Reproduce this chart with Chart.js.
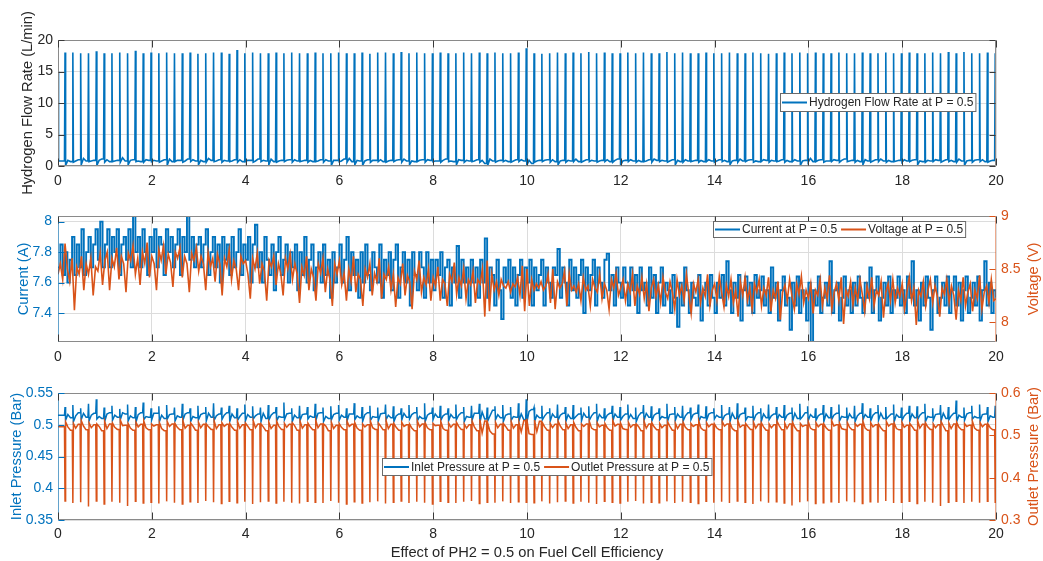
<!DOCTYPE html>
<html>
<head>
<meta charset="utf-8">
<script src="https://cdn.jsdelivr.net/npm/chart.js@4.4.1/dist/chart.umd.min.js"></script>
<style>
html, body { margin: 0; padding: 0; background: #fff; }
#wrap { position: relative; width: 1043px; height: 561px; overflow: hidden; }
canvas { position: absolute; left: 0; }
</style>
</head>
<body>
<div id="wrap">
  <canvas id="flow" width="1043" height="200" style="top:0px"></canvas>
  <canvas id="elec" width="1043" height="170" style="top:200px"></canvas>
  <canvas id="press" width="1043" height="191" style="top:370px"></canvas>
</div>
<script>
// ---- data ----
var timeTicks = [0, 2, 4, 6, 8, 10, 12, 14, 16, 18, 20];
var flowTicks = [0, 5, 10, 15, 20];
var currentTicks = [7.4, 7.6, 7.8, 8];
var voltageTicks = [8, 8.5, 9];
var inletTicks = [0.35, 0.4, 0.45, 0.5, 0.55];
var outletTicks = [0.3, 0.4, 0.5, 0.6];

// purge events (one every ~1/6 s, first at ~0.15 s)
var purgeStart = 0.15;
var purgeInterval = 1 / 6;

// hydrogen flow rate (L/min)
var flowLead = [[0, 15], [0.012, 0.8]];
var flowPeaks = [
  18.0,18.0,17.9,17.9,18.2,17.9,17.9,18.0,17.9,18.3,17.9,18.0,
  17.9,18.0,17.9,17.9,18.0,17.8,17.9,18.0,18.0,17.8,18.4,17.9,
  18.0,17.9,17.9,18.0,17.9,18.0,17.9,17.9,18.0,17.9,17.9,18.0,
  17.9,17.9,18.0,17.8,18.0,18.0,17.9,18.1,17.9,18.0,17.9,17.9,
  18.0,17.9,17.9,18.0,17.9,18.0,17.9,18.0,17.9,17.9,18.0,18.7,
  17.9,17.8,17.9,18.0,17.9,18.0,17.9,18.1,17.9,18.0,17.9,17.9,
  18.0,17.9,18.0,17.9,17.9,18.1,17.9,18.0,17.9,17.9,18.0,17.9,
  17.9,18.0,17.9,17.9,18.0,17.9,17.8,17.9,18.0,17.9,18.0,17.9,
  18.0,17.9,17.9,18.0,17.9,17.9,18.0,17.9,17.9,18.0,17.9,17.9,
  18.0,17.9,17.9,18.0,17.9,18.1,17.9,18.1,17.9,17.9,18.0,17.9
];
var flowLow = [
  0.1,0.6,0.2,0.7,0.1,0.6,0.7,0.6,0.2,0.7,0.6,0.7,0.6,0.1,0.7,0.6,0.7,0.2,0.6,0.7,
  0.6,0.7,0.6,0.7,0.6,0.7,0.2,0.6,0.7,0.6,0.7,0.6,0.7,0.6,0.1,0.7,0.6,0.2,0.1,0.6,
  0.7,0.6,0.7,0.6,0.2,0.7,0.6,0.7,0.6,0.7,0.2,0.6,0.7,0.6,0.1,0.6,0.7,0.6,0.7,0.1,
  0.6,0.7,0.6,0.2,0.6,0.7,0.6,0.7,0.6,0.7,0.6,0.1,0.7,0.6,0.7,0.6,0.7,0.6,0.2,0.6,
  0.7,0.6,0.7,0.6,0.7,0.2,0.6,0.7,0.6,0.7,0.6,0.7,0.6,0.7,0.1,0.6,0.7,0.6,0.7,0.6,
  0.7,0.6,0.2,0.6,0.7,0.6,0.7,0.6,0.7,0.2,0.6,0.7,0.6,0.7,0.6,0.1,0.6,0.7,0.6,0.7
];
var flowBase = [
  0.9,0.8,1.2,0.8,0.9,1.0,0.8,1.3,0.9,0.8,1.0,0.9,0.8,1.1,0.9,0.8,1.0,0.9,1.2,0.8,
  0.9,0.8,1.0,0.9,0.8,0.9,1.1,0.8,0.9,1.0,0.8,0.9,0.8,1.0,0.9,0.8,1.2,0.9,0.8,0.9,
  1.0,0.8,0.9,1.1,0.8,0.9,1.0,0.8,0.9,0.8,1.0,0.9,0.8,0.9,1.1,0.8,0.9,0.8,1.0,0.9,
  0.8,0.9,1.0,0.8,0.9,1.1,0.8,0.9,0.8,1.0,0.9,0.8,1.0,0.9,0.8,1.1,0.9,0.8,0.9,1.0,
  0.8,0.9,1.0,0.8,0.9,0.8,1.1,0.9,0.8,1.0,0.9,0.8,0.9,1.0,0.8,1.2,0.9,0.8,1.0,0.9,
  0.8,0.9,1.0,0.8,1.1,0.9,0.8,1.0,0.9,0.8,0.9,1.0,0.8,0.9,1.1,0.8,0.9,1.0,0.8,0.9
];
var flowBase2 = [
  0.7,1.0,0.8,0.9,1.1,0.7,0.9,0.8,1.0,0.7,0.9,0.8,1.0,0.7,0.9,1.1,0.8,0.7,0.9,1.0,
  0.8,1.0,0.7,0.9,1.1,0.8,0.7,0.9,1.0,0.8,0.9,0.7,1.0,0.8,0.9,1.1,0.7,0.8,1.0,0.9,
  0.7,0.9,1.0,0.8,0.7,1.0,0.9,0.8,1.1,0.7,0.9,0.8,1.0,0.4,0.8,0.9,0.7,1.0,0.8,0.4,
  0.9,1.0,0.7,0.9,0.8,0.7,1.0,0.8,0.9,0.7,1.1,0.9,0.8,0.7,1.0,0.9,0.8,1.0,0.7,0.8,
  0.9,0.7,0.8,1.0,0.7,0.9,0.8,1.0,0.7,0.9,0.8,1.0,0.7,0.8,0.9,0.7,1.0,0.8,0.9,1.1,
  0.9,0.7,0.8,1.0,0.8,0.7,0.9,0.8,1.0,0.7,0.8,0.9,1.0,0.7,0.8,0.9,1.0,0.7,0.9,0.8
];

// current (A) and voltage (V), one sample every 0.05 s
var sampleStep = 0.05;
var currentA = [
  7.70,7.85,7.65,7.80,7.60,7.75,7.90,7.65,7.85,7.70,7.95,7.65,7.80,7.90,7.70,7.85,7.95,7.75,8.00,7.70,
  7.85,7.95,7.70,7.90,7.80,7.95,7.65,7.85,7.90,7.75,7.95,7.70,8.04,7.80,7.90,7.70,7.95,7.80,7.65,7.90,
  7.80,7.95,7.70,7.90,7.85,7.65,7.95,7.80,7.90,7.70,7.85,7.95,7.65,7.90,7.80,8.04,7.75,7.90,7.70,7.85,
  7.90,7.70,7.85,7.95,7.65,7.80,7.90,7.70,7.85,7.60,7.90,7.75,7.85,7.65,7.90,7.70,7.80,7.95,7.65,7.85,
  7.75,7.90,7.60,7.85,7.98,7.70,7.80,7.60,7.90,7.75,7.65,7.85,7.55,7.80,7.90,7.65,7.75,7.85,7.60,7.80,
  7.70,7.85,7.55,7.80,7.65,7.90,7.60,7.75,7.85,7.55,7.70,7.80,7.60,7.85,7.65,7.75,7.50,7.80,7.60,7.70,
  7.85,7.60,7.75,7.90,7.55,7.80,7.65,7.75,7.50,7.80,7.60,7.85,7.65,7.55,7.80,7.70,7.60,7.85,7.50,7.75,
  7.65,7.80,7.55,7.75,7.85,7.50,7.70,7.80,7.60,7.75,7.45,7.80,7.65,7.55,7.80,7.70,7.50,7.80,7.60,7.75,
  7.55,7.75,7.65,7.80,7.50,7.70,7.75,7.45,7.70,7.60,7.84,7.50,7.75,7.60,7.70,7.45,7.75,7.60,7.70,7.50,
  7.75,7.60,7.89,7.50,7.70,7.65,7.45,7.75,7.55,7.36,7.70,7.60,7.75,7.50,7.70,7.45,7.65,7.75,7.50,7.70,
  7.60,7.75,7.45,7.70,7.55,7.65,7.75,7.45,7.70,7.60,7.50,7.70,7.65,7.82,7.50,7.70,7.60,7.45,7.75,7.55,
  7.70,7.50,7.65,7.75,7.40,7.70,7.55,7.65,7.75,7.45,7.70,7.60,7.50,7.75,7.79,7.55,7.65,7.45,7.70,7.60,
  7.50,7.70,7.60,7.45,7.70,7.55,7.65,7.40,7.70,7.55,7.60,7.45,7.70,7.50,7.65,7.40,7.60,7.70,7.45,7.60,
  7.55,7.40,7.65,7.50,7.31,7.60,7.45,7.70,7.55,7.40,7.60,7.50,7.45,7.65,7.35,7.55,7.60,7.45,7.65,7.50,
  7.40,7.60,7.50,7.65,7.45,7.74,7.55,7.40,7.60,7.50,7.65,7.35,7.55,7.64,7.45,7.60,7.40,7.65,7.50,7.55,
  7.64,7.45,7.55,7.40,7.70,7.50,7.60,7.35,7.55,7.64,7.45,7.50,7.29,7.60,7.45,7.64,7.40,7.55,7.50,7.35,
  7.60,7.21,7.55,7.45,7.64,7.40,7.50,7.60,7.45,7.74,7.40,7.55,7.60,7.35,7.50,7.64,7.45,7.55,7.40,7.60,
  7.45,7.64,7.50,7.40,7.60,7.50,7.70,7.40,7.55,7.64,7.35,7.50,7.60,7.45,7.64,7.40,7.55,7.50,7.64,7.45,
  7.55,7.40,7.64,7.50,7.74,7.45,7.55,7.35,7.60,7.45,7.64,7.50,7.29,7.55,7.64,7.40,7.50,7.60,7.45,7.64,
  7.40,7.55,7.64,7.45,7.60,7.35,7.55,7.64,7.40,7.50,7.60,7.45,7.64,7.35,7.55,7.74,7.45,7.60,7.40,7.55,
  7.50
];
var voltageV = [
  8.45,8.55,8.40,8.74,8.50,8.38,8.60,8.11,8.52,8.45,8.62,8.30,8.55,8.45,8.60,8.25,8.52,8.48,8.65,8.35,
  8.58,8.66,8.30,8.60,8.52,8.70,8.40,8.62,8.55,8.28,8.65,8.58,8.72,8.45,8.60,8.35,8.66,8.55,8.75,8.42,
  8.62,8.55,8.30,8.68,8.58,8.72,8.45,8.64,8.56,8.33,8.66,8.60,8.70,8.42,8.62,8.55,8.28,8.65,8.58,8.70,
  8.48,8.62,8.55,8.30,8.66,8.52,8.60,8.38,8.64,8.55,8.25,8.60,8.52,8.68,8.40,8.58,8.50,8.30,8.62,8.55,
  8.58,8.45,8.22,8.60,8.50,8.65,8.36,8.55,8.48,8.20,8.58,8.52,8.62,8.35,8.55,8.46,8.25,8.60,8.50,8.64,
  8.40,8.55,8.45,8.18,8.52,8.44,8.62,8.30,8.50,8.42,8.20,8.55,8.46,8.60,8.28,8.50,8.40,8.15,8.55,8.45,
  8.58,8.35,8.46,8.20,8.50,8.38,8.62,8.28,8.45,8.40,8.15,8.50,8.42,8.55,8.25,8.46,8.38,8.60,8.22,8.45,
  8.40,8.52,8.30,8.45,8.14,8.42,8.36,8.55,8.25,8.44,8.38,8.12,8.48,8.40,8.58,8.28,8.42,8.35,8.50,8.20,
  8.42,8.34,8.52,8.20,8.40,8.36,8.15,8.45,8.38,8.56,8.26,8.42,8.34,8.50,8.22,8.40,8.35,8.48,8.18,8.40,
  8.36,8.50,8.05,8.58,8.10,8.45,8.30,8.38,8.25,8.40,8.34,8.32,8.38,8.28,8.36,8.33,8.42,8.25,8.53,8.10,
  8.50,8.15,8.40,8.30,8.36,8.32,8.38,8.30,8.34,8.45,8.18,8.50,8.12,8.38,8.32,8.36,8.48,8.15,8.46,8.30,
  8.34,8.28,8.36,8.20,8.42,8.30,8.34,8.15,8.40,8.32,8.28,8.45,8.22,8.36,8.30,8.12,8.40,8.32,8.46,8.25,
  8.32,8.40,8.20,8.36,8.28,8.45,8.15,8.34,8.26,8.42,8.22,8.36,8.10,8.32,8.40,8.24,8.35,8.18,8.42,8.28,
  8.22,8.38,8.28,8.12,8.40,8.25,8.34,8.20,8.45,8.26,8.08,8.36,8.28,8.40,8.18,8.32,8.24,8.45,8.15,8.30,
  8.36,8.20,8.43,8.28,8.14,8.35,8.24,8.40,8.18,8.30,8.05,8.38,8.25,8.42,8.20,8.32,8.12,8.36,8.28,8.40,
  8.15,8.32,8.25,8.42,8.10,8.30,8.22,8.38,8.02,8.28,8.35,8.20,8.40,8.24,8.12,8.36,8.26,8.43,8.18,8.30,
  8.22,8.36,8.08,8.30,8.25,8.40,8.15,8.32,8.22,8.44,8.12,8.28,8.36,8.20,8.42,7.98,8.30,8.24,8.38,8.16,
  8.32,8.20,8.40,8.26,8.10,8.34,8.22,8.42,8.15,8.30,8.25,8.38,8.04,8.28,8.36,8.20,8.40,8.18,8.32,8.24,
  8.36,8.12,8.28,8.42,8.20,8.32,7.97,8.30,8.24,8.38,8.15,8.30,8.40,8.18,8.34,8.24,8.05,8.32,8.26,8.40,
  8.18,8.34,8.25,8.02,8.30,8.20,8.42,8.15,8.28,8.36,8.10,8.30,8.22,8.44,8.12,8.28,8.34,8.18,8.40,8.20,
  8.22
];

// inlet pressure (Bar), per purge: spike, dip after it, two levels between purges
var inletLead = [[0, 0.515]];
var inletPeak = [
  0.528,0.531,0.526,0.533,0.540,0.527,0.530,0.525,0.532,0.528,0.535,0.526,0.529,0.531,0.527,0.533,0.526,0.530,0.528,0.534,
  0.527,0.530,0.526,0.532,0.529,0.527,0.531,0.528,0.535,0.526,0.530,0.528,0.533,0.527,0.529,0.531,0.526,0.534,0.528,0.530,
  0.527,0.532,0.529,0.526,0.531,0.528,0.534,0.527,0.530,0.526,0.532,0.528,0.530,0.533,0.527,0.529,0.531,0.528,0.534,0.540,
  0.527,0.530,0.526,0.532,0.528,0.531,0.527,0.529,0.533,0.526,0.530,0.528,0.532,0.527,0.531,0.529,0.526,0.533,0.528,0.530,
  0.527,0.532,0.529,0.526,0.531,0.528,0.534,0.527,0.530,0.526,0.532,0.528,0.531,0.527,0.533,0.529,0.526,0.531,0.528,0.532,
  0.527,0.530,0.534,0.526,0.531,0.528,0.532,0.527,0.530,0.529,0.533,0.526,0.531,0.528,0.538,0.527,0.530,0.532,0.528,0.530
];
var inletDip = [
  0.507,0.505,0.508,0.506,0.509,0.505,0.507,0.508,0.506,0.504,0.508,0.507,0.505,0.509,0.506,0.507,0.505,0.508,0.506,0.507,
  0.508,0.505,0.507,0.506,0.509,0.505,0.507,0.506,0.508,0.505,0.507,0.509,0.506,0.505,0.508,0.507,0.506,0.508,0.505,0.507,
  0.506,0.508,0.505,0.507,0.509,0.506,0.505,0.508,0.507,0.506,0.508,0.505,0.507,0.503,0.506,0.508,0.505,0.507,0.506,0.503,
  0.505,0.508,0.506,0.507,0.505,0.509,0.506,0.507,0.505,0.508,0.506,0.507,0.509,0.505,0.507,0.506,0.508,0.505,0.507,0.506,
  0.508,0.505,0.507,0.509,0.506,0.505,0.508,0.507,0.506,0.505,0.508,0.506,0.507,0.505,0.509,0.506,0.507,0.505,0.508,0.506,
  0.507,0.505,0.508,0.506,0.507,0.509,0.505,0.507,0.506,0.508,0.505,0.507,0.506,0.508,0.505,0.507,0.509,0.506,0.505,0.508
];
var inletMid = [
  0.516,0.514,0.518,0.515,0.513,0.517,0.515,0.519,0.514,0.516,0.513,0.518,0.515,0.516,0.514,0.517,0.513,0.516,0.518,0.514,
  0.515,0.517,0.513,0.516,0.514,0.518,0.515,0.513,0.517,0.515,0.516,0.514,0.518,0.513,0.516,0.515,0.517,0.514,0.516,0.513,
  0.517,0.515,0.514,0.518,0.516,0.513,0.515,0.517,0.514,0.516,0.515,0.513,0.518,0.520,0.514,0.516,0.515,0.513,0.517,0.521,
  0.515,0.514,0.517,0.515,0.516,0.513,0.518,0.514,0.516,0.515,0.517,0.513,0.516,0.514,0.518,0.515,0.513,0.516,0.517,0.514,
  0.516,0.513,0.517,0.515,0.514,0.518,0.516,0.513,0.515,0.517,0.514,0.516,0.515,0.518,0.513,0.516,0.514,0.517,0.515,0.513,
  0.517,0.514,0.516,0.515,0.518,0.513,0.516,0.514,0.517,0.515,0.513,0.516,0.518,0.514,0.515,0.517,0.513,0.516,0.514,0.517
];
var inletMid2 = [
  0.511,0.519,0.512,0.518,0.510,0.519,0.512,0.517,0.511,0.519,0.512,0.518,0.510,0.517,0.512,0.519,0.511,0.518,0.512,0.517,
  0.519,0.511,0.518,0.512,0.517,0.510,0.519,0.512,0.518,0.511,0.517,0.512,0.519,0.510,0.518,0.512,0.517,0.511,0.519,0.512,
  0.518,0.511,0.517,0.512,0.519,0.510,0.518,0.512,0.517,0.511,0.519,0.512,0.518,0.509,0.523,0.511,0.517,0.512,0.508,0.524,
  0.511,0.519,0.512,0.518,0.510,0.517,0.512,0.519,0.511,0.518,0.512,0.517,0.510,0.519,0.512,0.518,0.511,0.517,0.512,0.519,
  0.518,0.511,0.519,0.512,0.517,0.510,0.518,0.512,0.519,0.511,0.517,0.512,0.518,0.510,0.519,0.512,0.517,0.511,0.518,0.512,
  0.511,0.518,0.512,0.519,0.510,0.517,0.512,0.518,0.511,0.519,0.512,0.517,0.510,0.518,0.512,0.519,0.511,0.517,0.512,0.518
];

// outlet pressure (Bar), per purge: dip, overshoot after it, two levels between purges
var outletLead = [[0, 0.52]];
var outletDip = [
  0.345,0.340,0.342,0.332,0.345,0.338,0.343,0.341,0.333,0.344,0.340,0.342,0.339,0.344,0.341,0.338,0.343,0.340,0.345,0.342,
  0.339,0.344,0.341,0.343,0.338,0.342,0.345,0.340,0.343,0.341,0.339,0.344,0.342,0.340,0.345,0.341,0.338,0.343,0.340,0.342,
  0.344,0.339,0.342,0.345,0.340,0.343,0.341,0.338,0.344,0.342,0.340,0.343,0.345,0.339,0.342,0.341,0.344,0.340,0.343,0.342,
  0.341,0.344,0.339,0.342,0.345,0.340,0.343,0.341,0.338,0.344,0.342,0.340,0.343,0.345,0.339,0.342,0.341,0.344,0.340,0.343,
  0.342,0.339,0.344,0.341,0.343,0.340,0.345,0.342,0.338,0.344,0.341,0.343,0.340,0.334,0.342,0.344,0.339,0.341,0.343,0.340,
  0.344,0.342,0.339,0.343,0.341,0.345,0.340,0.342,0.344,0.339,0.343,0.341,0.333,0.342,0.344,0.340,0.343,0.341,0.344,0.342
];
var outletUp = [
  0.532,0.528,0.535,0.530,0.527,0.533,0.529,0.536,0.528,0.531,0.534,0.527,0.530,0.533,0.528,0.535,0.529,0.531,0.527,0.534,
  0.530,0.528,0.533,0.529,0.535,0.527,0.531,0.534,0.528,0.530,0.533,0.529,0.536,0.527,0.531,0.528,0.534,0.530,0.527,0.533,
  0.529,0.535,0.528,0.531,0.527,0.534,0.530,0.528,0.533,0.529,0.531,0.527,0.534,0.538,0.529,0.531,0.528,0.533,0.530,0.539,
  0.536,0.530,0.528,0.534,0.529,0.531,0.527,0.533,0.530,0.528,0.535,0.529,0.531,0.527,0.534,0.530,0.528,0.533,0.529,0.531,
  0.528,0.534,0.530,0.527,0.533,0.529,0.535,0.528,0.531,0.530,0.527,0.534,0.529,0.531,0.528,0.533,0.530,0.527,0.535,0.529,
  0.531,0.528,0.534,0.530,0.527,0.533,0.529,0.531,0.528,0.535,0.530,0.527,0.533,0.529,0.531,0.528,0.534,0.530,0.527,0.532
];
var outletMid = [
  0.520,0.517,0.522,0.518,0.521,0.516,0.519,0.523,0.517,0.520,0.518,0.522,0.516,0.521,0.519,0.517,0.522,0.518,0.520,0.516,
  0.521,0.519,0.517,0.522,0.518,0.520,0.516,0.521,0.519,0.523,0.517,0.520,0.518,0.522,0.516,0.519,0.521,0.517,0.520,0.518,
  0.522,0.516,0.519,0.521,0.517,0.520,0.518,0.523,0.516,0.519,0.521,0.517,0.520,0.505,0.510,0.518,0.521,0.517,0.508,0.504,
  0.509,0.520,0.518,0.522,0.516,0.519,0.521,0.517,0.520,0.518,0.522,0.516,0.519,0.521,0.517,0.520,0.518,0.522,0.516,0.519,
  0.521,0.517,0.520,0.518,0.522,0.516,0.519,0.521,0.517,0.520,0.518,0.523,0.516,0.519,0.521,0.517,0.520,0.518,0.522,0.516,
  0.519,0.521,0.517,0.520,0.518,0.522,0.516,0.519,0.521,0.517,0.520,0.518,0.522,0.516,0.519,0.521,0.517,0.520,0.518,0.521
];
var outletMid2 = [
  0.512,0.526,0.513,0.525,0.511,0.527,0.514,0.524,0.512,0.526,0.513,0.525,0.511,0.527,0.513,0.524,0.512,0.526,0.514,0.525,
  0.526,0.512,0.525,0.513,0.527,0.511,0.524,0.514,0.526,0.512,0.525,0.513,0.527,0.511,0.524,0.513,0.526,0.512,0.525,0.514,
  0.513,0.526,0.512,0.525,0.511,0.527,0.513,0.524,0.512,0.526,0.514,0.525,0.511,0.534,0.503,0.526,0.512,0.525,0.535,0.502,
  0.533,0.512,0.526,0.513,0.525,0.511,0.527,0.513,0.524,0.512,0.526,0.514,0.525,0.511,0.527,0.513,0.524,0.512,0.526,0.513,
  0.525,0.512,0.526,0.513,0.527,0.511,0.524,0.514,0.526,0.512,0.525,0.513,0.527,0.511,0.524,0.513,0.526,0.512,0.525,0.514,
  0.513,0.526,0.512,0.525,0.511,0.527,0.513,0.524,0.512,0.526,0.514,0.525,0.511,0.527,0.513,0.524,0.512,0.526,0.513,0.525
];

// ---- styling ----
var BLUE = '#0072BD';
var ORANGE = '#D95319';
var INK = '#262626';
var GRID = '#dcdcdc';
var FONT = '"Liberation Sans", Arial, Helvetica, sans-serif';

// point list per purge cycle: level before, spike, value after, two levels in between
function spikeTrain(lead, peaks, after, midA, midB) {
  var pts = lead.map(function (p) { return { x: p[0], y: p[1] }; });
  peaks.forEach(function (p, k) {
    var t = purgeStart + k * purgeInterval;
    pts.push({ x: t - 0.012, y: k ? midB[k - 1] : lead[lead.length - 1][1] });
    pts.push({ x: t, y: p });
    pts.push({ x: t + 0.012, y: after[k] });
    pts.push({ x: t + 0.06, y: midA[k] });
    pts.push({ x: t + 0.115, y: midB[k] });
  });
  return pts;
}

function sampled(values) {
  return values.map(function (v, i) { return { x: i * sampleStep, y: v }; });
}

function xScale(h, pad) {
  return {
    type: 'linear', min: 0, max: 20,
    afterBuildTicks: function (s) { s.ticks = timeTicks.map(function (v) { return { value: v }; }); },
    afterFit: function (s) { s.height = h; },
    grid: { color: GRID, drawTicks: false },
    border: { display: false },
    ticks: { color: INK, font: { family: FONT, size: 14 }, padding: pad, maxRotation: 0, autoSkip: false }
  };
}

function yScale(pos, min, max, vals, color, w, pad, grid) {
  return {
    type: 'linear', position: pos, min: min, max: max,
    afterBuildTicks: function (s) { s.ticks = vals.map(function (v) { return { value: v }; }); },
    afterFit: function (s) { s.width = w; },
    grid: { display: grid, color: GRID, drawTicks: false },
    border: { display: false },
    ticks: { color: color, font: { family: FONT, size: 14 }, padding: pad, callback: function (v) { return String(v); } }
  };
}

// MATLAB style box, inner ticks and axis labels
var framePlugin = {
  id: 'frame',
  afterDatasetsDraw: function (chart, args, o) {
    var ctx = chart.ctx, a = chart.chartArea, sc = chart.scales;
    var L = Math.round(a.left) + 0.5, R = Math.round(a.right) - 0.5;
    var T = Math.round(a.top) + 0.5, B = Math.round(a.bottom) - 0.5;
    function seg(x1, y1, x2, y2, c) {
      ctx.strokeStyle = c; ctx.beginPath(); ctx.moveTo(x1, y1); ctx.lineTo(x2, y2); ctx.stroke();
    }
    ctx.save();
    ctx.lineWidth = 1;
    seg(L, T, R, T, o.frame);
    seg(L, B, R, B, o.frame);
    seg(L, T, L, B, o.left);
    seg(R, T, R, B, o.right);
    timeTicks.forEach(function (v) {
      var px = Math.round(sc.x.getPixelForValue(v)) + 0.5;
      seg(px, B, px, B - 7, o.tick);
      seg(px, T, px, T + 7, o.tick);
    });
    sc.yL.ticks.forEach(function (t) {
      var py = Math.round(sc.yL.getPixelForValue(t.value)) + 0.5;
      seg(L, py, L + 6, py, o.leftTick);
      if (!sc.yR) seg(R, py, R - 6, py, o.tick);
    });
    if (sc.yR) {
      sc.yR.ticks.forEach(function (t) {
        var py = Math.round(sc.yR.getPixelForValue(t.value)) + 0.5;
        seg(R, py, R - 6, py, o.rightTick);
      });
    }
    ctx.font = '14.7px ' + FONT;
    ctx.textAlign = 'center';
    ctx.textBaseline = 'middle';
    var midY = (a.top + a.bottom) / 2;
    o.titles.forEach(function (tt) {
      ctx.save();
      ctx.translate(tt.x, tt.y === undefined ? midY : tt.y);
      if (tt.rot) ctx.rotate(-Math.PI / 2);
      ctx.fillStyle = tt.color;
      ctx.fillText(tt.text, 0, 0);
      ctx.restore();
    });
    ctx.restore();
  }
};

// legend box drawn inside the axes
var legendPlugin = {
  id: 'mlegend',
  afterDraw: function (chart, args, o) {
    var ctx = chart.ctx;
    ctx.save();
    ctx.font = '12px ' + FONT;
    var widths = o.items.map(function (it) { return ctx.measureText(it.label).width; });
    var w = widths.reduce(function (s, tw) { return s + 27 + tw + 4; }, 2) - 1;
    ctx.fillStyle = '#fff';
    ctx.fillRect(o.x, o.y, w, o.h);
    ctx.strokeStyle = '#6a6a6a';
    ctx.lineWidth = 1;
    ctx.strokeRect(o.x + 0.5, o.y + 0.5, w - 1, o.h - 1);
    var cx = o.x + 2, my = o.y + o.h / 2;
    o.items.forEach(function (it, i) {
      ctx.strokeStyle = it.color;
      ctx.lineWidth = 2;
      ctx.beginPath(); ctx.moveTo(cx, my); ctx.lineTo(cx + 25, my); ctx.stroke();
      ctx.fillStyle = INK;
      ctx.textAlign = 'left';
      ctx.textBaseline = 'middle';
      ctx.fillText(it.label, cx + 27, my + 0.5);
      cx += 27 + widths[i] + 4;
    });
    ctx.restore();
  }
};

var common = {
  responsive: false,
  animation: false,
  events: [],
  elements: { point: { radius: 0 }, line: { tension: 0 } }
};

function lineSet(label, data, color, axis, order, width, extra) {
  var d = { label: label, data: data, borderColor: color, backgroundColor: color, borderWidth: width,
            pointRadius: 0, fill: false, yAxisID: axis, order: order };
  return Object.assign(d, extra || {});
}

new Chart(document.getElementById('flow'), {
  type: 'line',
  data: { datasets: [lineSet('Hydrogen Flow Rate at P = 0.5',
    spikeTrain(flowLead, flowPeaks, flowLow, flowBase, flowBase2), BLUE, 'yL', 1, 1.6)] },
  options: Object.assign({}, common, {
    layout: { padding: { top: 40, right: 47, left: 0, bottom: 0 } },
    scales: { x: xScale(34, 7), yL: yScale('left', 0, 20, flowTicks, INK, 58, 5, true) },
    plugins: {
      legend: { display: false }, tooltip: { enabled: false },
      frame: { frame: '#8a8a8a', left: '#8a8a8a', right: '#8a8a8a', tick: '#3a3a3a', leftTick: '#3a3a3a',
               titles: [{ text: 'Hydrogen Flow Rate (L/min)', x: 27.5, rot: true, color: INK }] },
      mlegend: { x: 780, y: 93, h: 19, items: [{ label: 'Hydrogen Flow Rate at P = 0.5', color: BLUE }] }
    }
  }),
  plugins: [framePlugin, legendPlugin]
});

new Chart(document.getElementById('elec'), {
  type: 'line',
  data: { datasets: [
    lineSet('Current at P = 0.5', sampled(currentA), BLUE, 'yL', 2, 1.9, { stepped: true }),
    lineSet('Voltage at P = 0.5', sampled(voltageV), ORANGE, 'yR', 1, 1.6)
  ] },
  options: Object.assign({}, common, {
    layout: { padding: { top: 16, right: 0, left: 0, bottom: 0 } },
    scales: {
      x: xScale(28, 7),
      yL: yScale('left', 7.21, 8.037, currentTicks, BLUE, 58, 6, true),
      yR: yScale('right', 7.81, 9, voltageTicks, ORANGE, 47, 5, false)
    },
    plugins: {
      legend: { display: false }, tooltip: { enabled: false },
      frame: { frame: '#8a8a8a', left: 'rgba(0,114,189,0.55)', right: 'rgba(217,83,25,0.5)', tick: '#3a3a3a',
               leftTick: BLUE, rightTick: ORANGE,
               titles: [{ text: 'Current (A)', x: 23.5, rot: true, color: BLUE },
                        { text: 'Voltage (V)', x: 1033.5, rot: true, color: ORANGE }] },
      mlegend: { x: 713, y: 21, h: 17, items: [{ label: 'Current at P = 0.5', color: BLUE },
                                               { label: 'Voltage at P = 0.5', color: ORANGE }] }
    }
  }),
  plugins: [framePlugin, legendPlugin]
});

new Chart(document.getElementById('press'), {
  type: 'line',
  data: { datasets: [
    lineSet('Inlet Pressure at P = 0.5',
      spikeTrain(inletLead, inletPeak, inletDip, inletMid, inletMid2), BLUE, 'yL', 2, 1.5),
    lineSet('Outlet Pressure at P = 0.5',
      spikeTrain(outletLead, outletDip, outletUp, outletMid, outletMid2), ORANGE, 'yR', 1, 1.5)
  ] },
  options: Object.assign({}, common, {
    layout: { padding: { top: 23, right: 0, left: 0, bottom: 0 } },
    scales: {
      x: xScale(41, 6),
      yL: yScale('left', 0.35, 0.55, inletTicks, BLUE, 58, 5, true),
      yR: yScale('right', 0.3, 0.6, outletTicks, ORANGE, 47, 5, false)
    },
    plugins: {
      legend: { display: false }, tooltip: { enabled: false },
      frame: { frame: '#8a8a8a', left: 'rgba(0,114,189,0.55)', right: 'rgba(217,83,25,0.5)', tick: '#3a3a3a',
               leftTick: BLUE, rightTick: ORANGE,
               titles: [{ text: 'Inlet Pressure (Bar)', x: 16.7, rot: true, color: BLUE },
                        { text: 'Outlet Pressure (Bar)', x: 1033.5, rot: true, color: ORANGE },
                        { text: 'Effect of PH2 = 0.5 on Fuel Cell Efficiency', x: 527, y: 182.7, rot: false, color: INK }] },
      mlegend: { x: 382, y: 88, h: 18, items: [{ label: 'Inlet Pressure at P = 0.5', color: BLUE },
                                               { label: 'Outlet Pressure at P = 0.5', color: ORANGE }] }
    }
  }),
  plugins: [framePlugin, legendPlugin]
});
</script>
</body>
</html>
